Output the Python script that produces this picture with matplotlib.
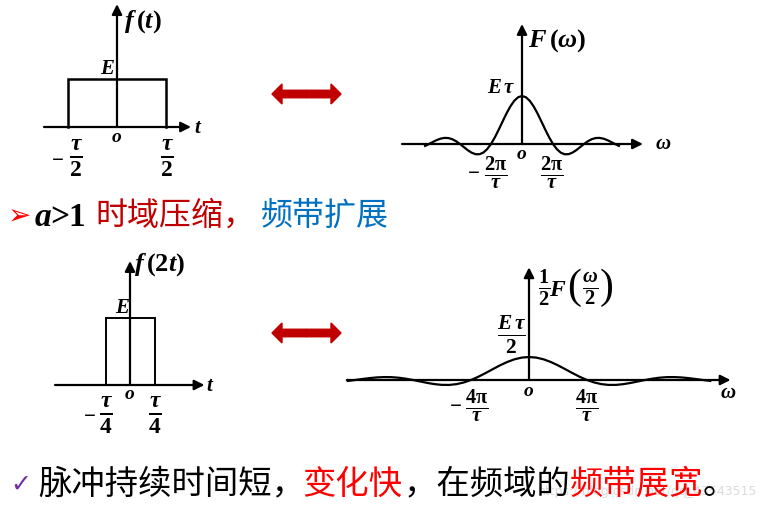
import matplotlib
matplotlib.use("Agg")
import matplotlib.pyplot as plt
from matplotlib.patches import FancyArrow
import numpy as np

# pulse: edges in units of tau, height in units of E
pulse_edges = [-0.5, 0.5]
pulse_height = 1.0

# spectrum F(w)/(E tau), read at w in units of 2pi/tau (w >= 0, even curve)
w_read = [0, 0.125, 0.25, 0.375, 0.5, 0.625, 0.75, 0.875, 1.0, 1.125, 1.25,
          1.375, 1.5, 1.625, 1.75, 1.875, 2.0, 2.125, 2.25, 2.375, 2.5,
          2.625, 2.75, 2.875, 3.0, 3.125]
F_read = [1.0, 0.974, 0.90, 0.784, 0.637, 0.47, 0.30, 0.139, 0.0, -0.108,
          -0.18, -0.214, -0.212, -0.181, -0.129, -0.065, 0.0, 0.057, 0.10,
          0.124, 0.127, 0.112, 0.082, 0.042, 0.0, -0.04]
a = 2  # compression factor

W, H = 767, 515
plt.rcParams['mathtext.fontset'] = 'custom'
plt.rcParams['mathtext.rm'] = 'Liberation Serif:bold'
plt.rcParams['mathtext.it'] = 'Liberation Serif:bold:italic'
plt.rcParams['mathtext.bf'] = 'Liberation Serif:bold'

fig = plt.figure(figsize=(W / 100, H / 100), dpi=100)
fig.patch.set_facecolor('white')


def panel(box, cx, cy, sx, sy):
    x0, y0, x1, y1 = box
    ax = fig.add_axes([x0 / W, 1 - y1 / H, (x1 - x0) / W, (y1 - y0) / H])
    ax.set_xlim((x0 - cx) / sx, (x1 - cx) / sx)
    ax.set_ylim((cy - y1) / sy, (cy - y0) / sy)
    ax.axis('off')
    return ax


def axis_arrow(ax, start, end, lw=1.6):
    ax.annotate('', xy=end, xytext=start,
                arrowprops=dict(arrowstyle='-|>', lw=lw, color='k',
                                mutation_scale=15, shrinkA=0, shrinkB=0))


def lbl(ax, x, y, s, size=15, ha='center', va='center', **kw):
    ax.text(x, y, s, fontsize=size, ha=ha, va=va, color='k', **kw)


def mirror(w, v):
    w = np.array(w)
    v = np.array(v)
    return np.concatenate([-w[::-1], w[1:]]), np.concatenate([v[::-1], v[1:]])


def pulse_xy(edges, h, xl, xr):
    return [xl, edges[0], edges[0], edges[1], edges[1], xr], [0, 0, h, h, 0, 0]


# ---- top left: f(t)
ax = panel((20, 0, 240, 190), 117, 127, 98, 48)
px, py = pulse_xy(pulse_edges, pulse_height, -0.5, 0.5)
ax.plot(px, py, color='k', lw=1.8, solid_joinstyle='miter')
axis_arrow(ax, (-0.745, 0), (0.755, 0))
axis_arrow(ax, (0, 0), (0, 2.56))
lbl(ax, 0.07, 2.2, r'$f\,\mathrm{(}t\mathrm{)}$', size=19, ha='left')
lbl(ax, -0.1, 1.22, r'$E$')
lbl(ax, 0, -0.2, r'$o$', size=14)
lbl(ax, -0.61, -0.64, r'$-$')
lbl(ax, -0.42, -0.66, r'$\frac{\tau}{2}$', size=24)
lbl(ax, 0.51, -0.66, r'$\frac{\tau}{2}$', size=24)
lbl(ax, 0.83, 0.0, r'$t$')

# ---- top right: F(w)
ax = panel((395, 0, 700, 195), 522, 144, 31, 48)
ww, ff = mirror(w_read, F_read)
ax.plot(ww, ff, color='k', lw=1.6)
axis_arrow(ax, (-3.87, 0), (3.9, 0))
axis_arrow(ax, (0, 0), (0, 2.5))
lbl(ax, 0.2, 2.15, r'$F\,\mathrm{(}\omega\mathrm{)}$', size=19, ha='left')
lbl(ax, -0.2, 1.18, r'$E\,\tau$', ha='right')
lbl(ax, 0, -0.2, r'$o$', size=14)
lbl(ax, -1.58, -0.56, r'$-$')
lbl(ax, -0.84, -0.6, r'$\frac{2\mathrm{\pi}}{\tau}$', size=21)
lbl(ax, 0.97, -0.6, r'$\frac{2\mathrm{\pi}}{\tau}$', size=21)
lbl(ax, 4.55, 0.02, r'$\omega$')

# ---- bottom left: f(2t)
ax = panel((40, 250, 240, 445), 130, 385, 98, 67)
px, py = pulse_xy([e / a for e in pulse_edges], pulse_height, -0.5, 0.5)
ax.plot(px, py, color='k', lw=1.4, solid_joinstyle='miter')
axis_arrow(ax, (-0.765, 0), (0.76, 0))
axis_arrow(ax, (0, 0), (0, 1.85))
lbl(ax, 0.04, 1.8, r'$f\,\mathrm{(}2t\mathrm{)}$', size=19, ha='left')
lbl(ax, -0.08, 1.16, r'$E$')
lbl(ax, 0, -0.12, r'$o$', size=14)
lbl(ax, -0.41, -0.44, r'$-$')
lbl(ax, -0.245, -0.45, r'$\frac{\tau}{4}$', size=24)
lbl(ax, 0.255, -0.45, r'$\frac{\tau}{4}$', size=24)
lbl(ax, 0.82, 0.0, r'$t$')

# ---- bottom right: 1/2 F(w/2)
ax = panel((340, 255, 767, 445), 529, 380, 29, 46)
ax.plot(ww * a, ff / a, color='k', lw=1.6)
axis_arrow(ax, (-6.28, 0), (6.95, 0))
axis_arrow(ax, (0, 0), (0, 2.45))
lbl(ax, 0.52, 1.98, r'$\frac{1}{2}$', size=21)
lbl(ax, 1.0, 1.98, r'$F$', size=17)
lbl(ax, 1.56, 2.0, '(', size=30, family='Liberation Serif')
lbl(ax, 2.1, 1.98, r'$\frac{\omega}{2}$', size=21)
lbl(ax, 2.66, 2.0, ')', size=30, family='Liberation Serif')
lbl(ax, -0.59, 0.98, r'$\frac{E\,\tau}{2}$', size=22)
lbl(ax, 0, -0.22, r'$o$', size=14)
lbl(ax, -2.55, -0.52, r'$-$')
lbl(ax, -1.79, -0.57, r'$\frac{4\mathrm{\pi}}{\tau}$', size=21)
lbl(ax, 2.0, -0.57, r'$\frac{4\mathrm{\pi}}{\tau}$', size=21)
lbl(ax, 6.86, -0.26, r'$\omega$')

# ---- double arrows (inches from bottom-left)
for yc in [94, 333]:
    for d in [-1, 1]:
        fig.patches.append(FancyArrow(3.065, (H - yc) / 100, d * 0.345, 0,
                                      width=0.075, head_width=0.2,
                                      head_length=0.1, length_includes_head=True,
                                      color='#C00000', transform=fig.dpi_scale_trans))

# ---- text lines
cjk = ['Noto Sans CJK SC', 'DejaVu Sans']


def ftext(x, y, s, color='k', size=23, family=None, **kw):
    fig.text(x / W, 1 - y / H, s, color=color, fontsize=size,
             family=family or cjk, ha='left', va='center', **kw)


ftext(8, 217, '\u27a2', color='#FF0000', size=20, family=['DejaVu Sans'])
ftext(35, 217, 'a', size=24, family=['Liberation Serif'], style='italic', weight='bold')
ftext(50, 217, '>1', size=24, family=['Liberation Serif'], weight='bold')
ftext(95, 216, '时域压缩，', color='#C00000')
ftext(261, 216, '频带扩展', color='#0070C0')

ftext(10, 485, '\u2713', color='#7030A0', size=18, family=['DejaVu Sans'])
ftext(38, 484, '脉冲持续时间短，', size=24)
ftext(302, 484, '变化快', color='#FF0000', size=24)
ftext(403, 484, '，在频域的', size=24)
ftext(570, 484, '频带展宽', color='#FF0000', size=24)
ftext(703, 484, '。', size=24)
fig.text(757 / W, 1 - 492 / H, 'https://blog.csdn.net/qq_43543515', color='#dcdcdc',
         fontsize=9, ha='right', va='center', family='DejaVu Sans', zorder=0)

fig.savefig('out.png', dpi=100)
